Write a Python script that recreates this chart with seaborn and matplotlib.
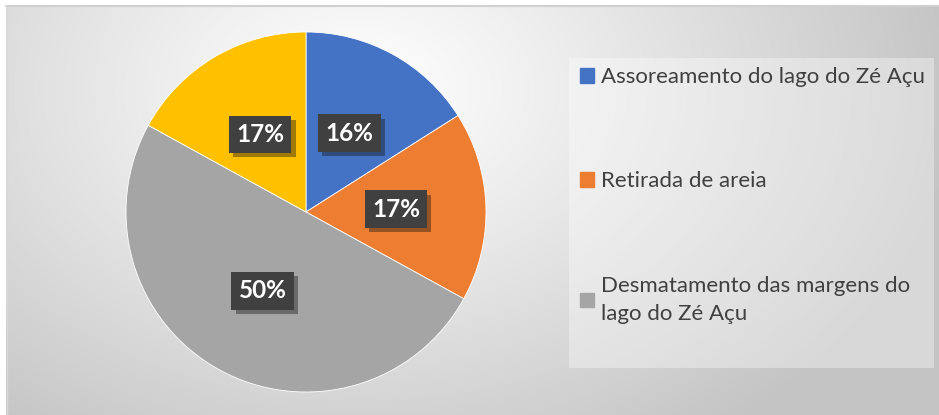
import numpy as np
import matplotlib.pyplot as plt
import matplotlib.patches as mpatches
import matplotlib.patheffects as pe
import seaborn as sns

# dados do gráfico
categorias = ["Assoreamento do lago do Zé Açu",
              "Retirada de areia",
              "Desmatamento das margens do\nlago do Zé Açu",
              ""]
valores = [16, 17, 50, 17]
cores = ["#4472C4", "#ED7D31", "#A5A5A5", "#FFC000"]

sns.set_style("white")
plt.rcParams["font.family"] = ["Lato", "DejaVu Sans"]

W, H = 939, 415
fig = plt.figure(figsize=(W / 100, H / 100), dpi=100)
fig.patch.set_facecolor("white")

# fundo com gradiente radial (cinza nas bordas)
bg = fig.add_axes([6 / W, 0, (W - 6) / W, (H - 6) / H])
xx, yy = np.meshgrid(np.arange(6, W), np.arange(6, H))
d = np.sqrt(((xx - 360) / 600) ** 2 + ((yy - 90) / 420) ** 2)
g = 1 - 0.23 * np.clip(d, 0, 1) ** 1.1
bg.imshow(np.dstack([g, g, g]), aspect="auto", interpolation="bilinear")
bg.set_axis_off()
fig.add_artist(plt.Line2D([6 / W, 1], [(H - 6.5) / H] * 2, color="#d0d0d0", lw=1.5))
fig.add_artist(plt.Line2D([6.5 / W] * 2, [0, (H - 6) / H], color="#d8d8d8", lw=1))

# pizza
ax = fig.add_axes([126 / W, 23 / H, 360 / W, 360 / H])
wedges, textos, autotextos = ax.pie(
    valores, colors=cores, startangle=90, counterclock=False,
    autopct="%1.0f%%", pctdistance=0.5,
    wedgeprops=dict(linewidth=0.6, edgecolor="white"),
)
ax.set_xlim(-1, 1)
ax.set_ylim(-1, 1)
for t in autotextos:
    t.set_color("white")
    t.set_fontweight("bold")
    t.set_fontsize(17.5)
    t.set_bbox(dict(boxstyle="square,pad=0.3", fc="#404040", ec="none"))
    t.get_bbox_patch().set_path_effects(
        [pe.SimplePatchShadow(offset=(3, -3), alpha=0.4), pe.Normal()])

# caixa da legenda
fig.add_artist(mpatches.Rectangle((569 / W, (H - 368) / H), 365 / W, 310 / H,
                                  transform=fig.transFigure, fc="white",
                                  alpha=0.35, ec="none"))
handles = [mpatches.Patch(color=c, label=l) for c, l in zip(cores[:3], categorias[:3])]
leg = fig.legend(handles=handles, loc="upper left",
                 bbox_to_anchor=(580 / W, (H - 67) / H), frameon=False,
                 fontsize=16, labelcolor="#404040", borderaxespad=0, borderpad=0,
                 handlelength=0.65, handleheight=0.65, handletextpad=0.3,
                 labelspacing=3.8)
for t in leg.get_texts():
    t.set_linespacing(1.5)

plt.savefig("out.png", dpi=100)
